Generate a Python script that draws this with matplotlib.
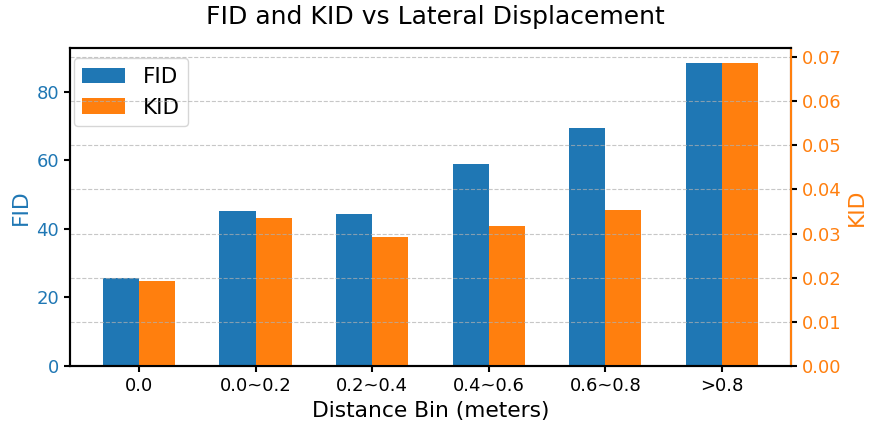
import numpy as np
from matplotlib import pyplot as plt

bins = ["0.0", "0.0~0.2", "0.2~0.4", "0.4~0.6", "0.6~0.8", ">0.8"]
fid = [25.7, 45.3, 44.4, 58.8, 69.3, 88.3]
kid = [0.0193, 0.0336, 0.0293, 0.0318, 0.0354, 0.0686]

blue = "#1f77b4"
orange = "#ff7f0e"

fig, ax1 = plt.subplots(figsize=(8.7, 4.23), dpi=100)
x = np.arange(len(bins))
w = 0.31

b1 = ax1.bar(x - w / 2, fid, w, color=blue, label="FID")
ax1.set_ylabel("FID", color=blue, fontsize=15.7)
ax1.tick_params(axis="y", labelcolor=blue, labelsize=13, width=1.5, length=4.5)
ax1.tick_params(axis="x", labelsize=13, width=1.5, length=4.5)
ax1.set_ylim(0, max(fid) * 1.05)
ax1.set_xticks(x)
ax1.set_xticklabels(bins)
ax1.set_xlabel("Distance Bin (meters)", fontsize=15.7)

ax2 = ax1.twinx()
b2 = ax2.bar(x + w / 2, kid, w, color=orange, label="KID")
ax2.set_ylabel("KID", color=orange, fontsize=15.7)
ax2.tick_params(axis="y", labelcolor=orange, labelsize=13, width=1.5, length=4.5)
ax2.set_ylim(0, max(kid) * 1.05)
ax2.grid(axis="y", linestyle="--", linewidth=0.8, alpha=0.7)

for ax in (ax1, ax2):
    for s in ax.spines.values():
        s.set_linewidth(1.5)
ax2.spines["right"].set_color(orange)

ax1.legend([b1, b2], ["FID", "KID"], loc="upper left", fontsize=15.5,
           bbox_to_anchor=(0.005, 0.968), borderaxespad=0)

fig.suptitle("FID and KID vs Lateral Displacement", fontsize=18, y=0.988)
plt.subplots_adjust(left=0.0805, right=0.909, top=0.8865, bottom=0.1348)
plt.savefig("out.png")
